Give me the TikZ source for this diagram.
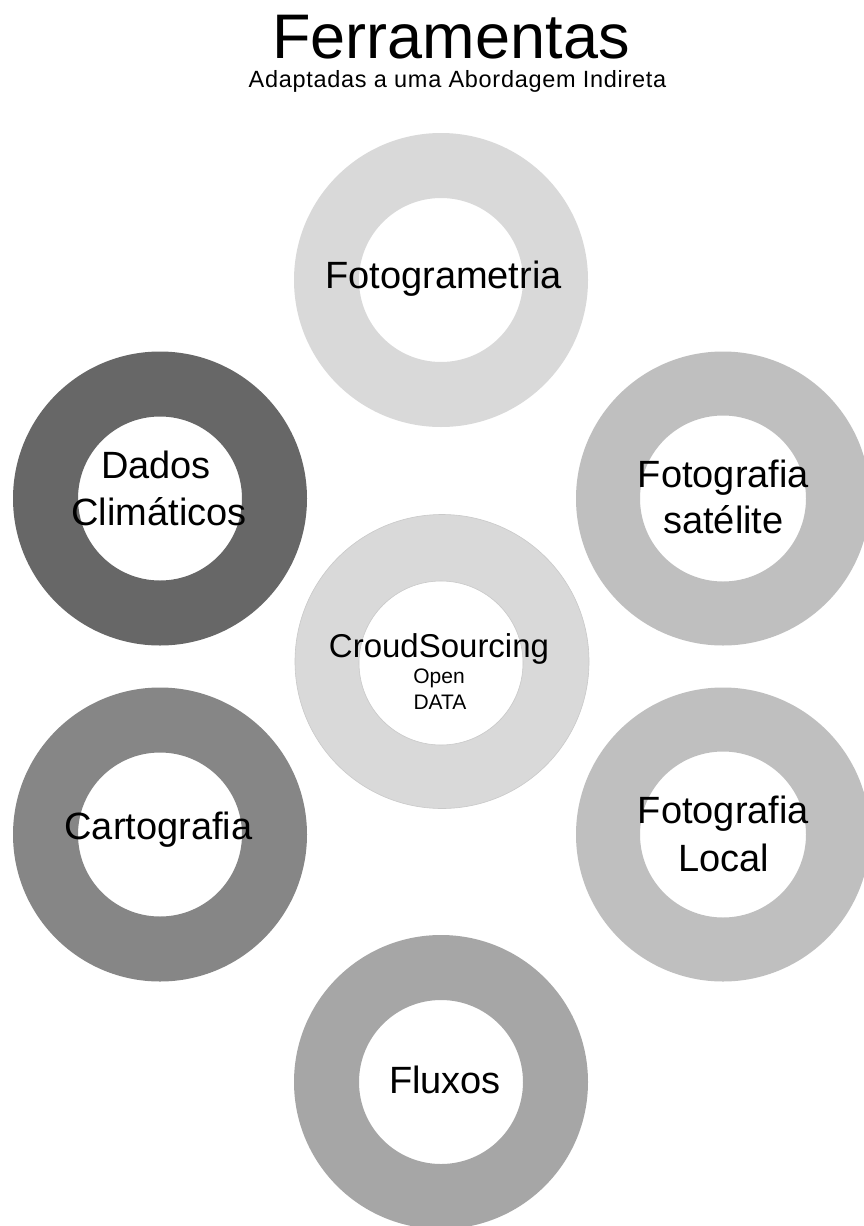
\documentclass[tikz,border=0pt]{standalone}
\usepackage{fontspec}
\setmainfont{Liberation Sans}
\definecolor{gA}{HTML}{D9D9D9}
\definecolor{gB}{HTML}{BFBFBF}
\definecolor{gC}{HTML}{A6A6A6}
\definecolor{gD}{HTML}{868686}
\definecolor{gE}{HTML}{676767}
\definecolor{gEdge}{HTML}{C9C9C9}
\begin{document}
\begin{tikzpicture}[x=1pt,y=-1pt,
  ring/.style={fill=#1,even odd rule},
  lbl/.style={anchor=base,inner sep=0pt,font=\fontsize{38}{46}\selectfont},
  lblmid/.style={anchor=base,inner sep=0pt,font=\fontsize{33}{40}\selectfont},
  lblsmall/.style={anchor=base,inner sep=0pt,font=\fontsize{21}{25}\selectfont}]
\useasboundingbox (0,0) rectangle (863,1226);
\fill[white] (0,0) rectangle (863,1226);

% title
\node[anchor=base,inner sep=0pt,text depth=0pt,font=\fontsize{63}{70}\selectfont] (title) at (451,58) {Ferramentas};
\node[anchor=base,inner sep=0pt,text height=16pt,font=\fontsize{23.5}{28}\selectfont\addfontfeature{LetterSpace=3}] (subtitle) at (457.5,87) {Adaptadas a uma Abordagem Indireta};

% rings
\fill[ring=gA] (441,280) circle[radius=147] (441,280) circle[radius=82];
\fill[ring=gE] (160,498.5) circle[radius=147] (160,498.5) circle[radius=82];
\fill[ring=gB] (723,498.5) circle[radius=147] (723,498.5) circle[radius=83];
\fill[ring=gA,draw=gEdge,line width=0.6pt] (442,661.5) circle[radius=147] (441,663) circle[radius=82];
\fill[ring=gD] (160,834.5) circle[radius=147] (160,834.5) circle[radius=82];
\fill[ring=gB] (723,834.5) circle[radius=147] (723,834.5) circle[radius=83];
\fill[ring=gC] (441,1082) circle[radius=147] (441,1082) circle[radius=82];

% labels
\node[lbl] (foto) at (443.5,288) {Fotogrametria};
\node[lbl] (dados1) at (156,478) {Dados};
\node[lbl] (dados2) at (159,525) {Climáticos};
\node[lbl] (sat1) at (723.5,487) {Fotografia};
\node[lbl] (sat2) at (723.5,533) {satélite};
\node[lblmid] (crowd) at (439,657) {CroudSourcing};
\node[lblsmall] (open) at (439,683) {Open};
\node[lblsmall] (data) at (440,709) {DATA};
\node[lbl] (carto) at (158.5,839) {Cartografia};
\node[lbl] (loc1) at (723.5,823) {Fotografia};
\node[lbl] (loc2) at (723.5,871) {Local};
\node[lbl] (flux) at (445,1093) {Fluxos};
\end{tikzpicture}
\end{document}
